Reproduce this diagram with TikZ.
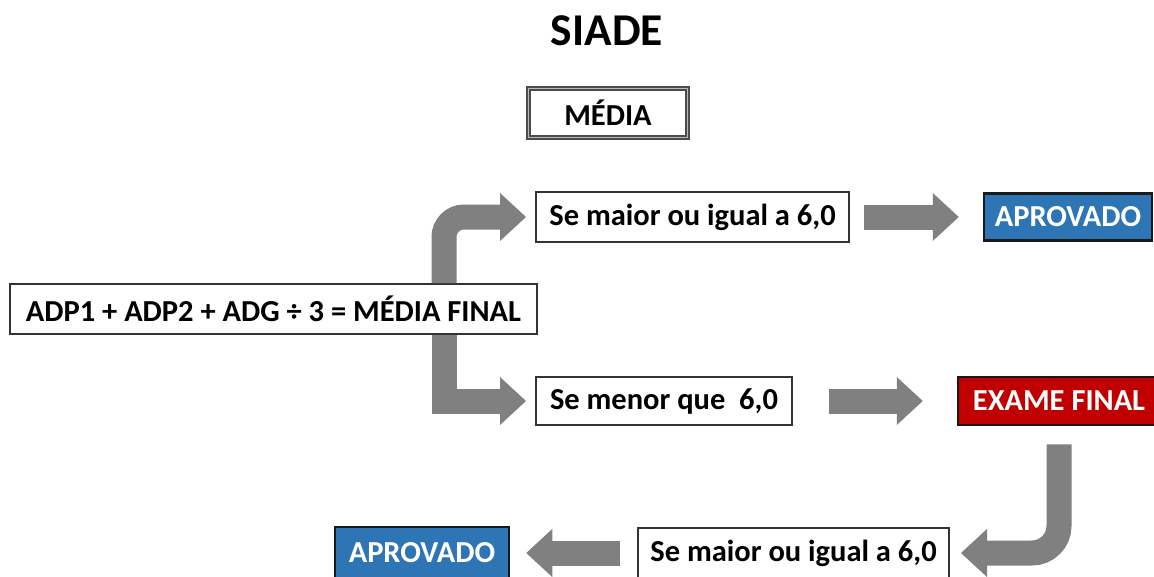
\documentclass[tikz,border=0pt]{standalone}
\usepackage{fontspec}
\setmainfont{Carlito}
\usetikzlibrary{positioning,arrows.meta}

\definecolor{aprovblue}{RGB}{46,117,182}
\definecolor{examered}{RGB}{192,0,0}
\definecolor{arrowgray}{RGB}{128,128,128}

\tikzset{
	boxtext/.style={font=\bfseries\fontsize{30.5}{34}\selectfont},
	stepbox/.style={draw=black!80, line width=2pt, fill=white, inner sep=0pt, boxtext},
	resultbox/.style={draw=black!90, line width=2.5pt, inner sep=0pt, text=white, boxtext},
	blockarrow/.style={draw=arrowgray, line width=25pt,
		-{Triangle[length=26pt, width=48pt, line width=0pt]}},
}

\begin{document}
\begin{tikzpicture}[x=1pt, y=-1pt]

\useasboundingbox (0, 0) rectangle (1154, 576);
\clip (0, 0) rectangle (1154, 576);

% Title
\node [font=\bfseries\fontsize{45.5}{50}\selectfont] (title) at (607, 31) {SIADE};

% Media
\node [draw=black!70,
	line width=2pt,
	double=gray!55,
	double distance=1.5pt,
	minimum width=159pt,
	minimum height=49pt,
	inner sep=0pt,
	boxtext
] (media) at (608, 113) {MÉDIA};

% Formula
\node [stepbox,
	minimum width=527pt,
	minimum height=50pt
] (formula) at (273.5, 309) {ADP1 + ADP2 + ADG ÷ 3 = MÉDIA FINAL};
\coordinate (split) at (444, 309);

% Greater or equal
\node [stepbox,
	minimum width=313pt,
	minimum height=50pt
] (gemax) at (692.5, 217) {Se maior ou igual a 6,0};

% Less than
\node [stepbox,
	minimum width=256pt,
	minimum height=48pt
] (lessmin) at (664, 401) {Se menor que\ \ 6,0};

% Approved 1
\node [resultbox,
	fill=aprovblue,
	minimum width=168pt,
	minimum height=47pt
] (approved_1) at (1068, 217) {APROVADO};

% Final exam
\node [resultbox,
	fill=examered,
	minimum width=202pt,
	minimum height=48pt
] (final_exam) at (1059, 401) {EXAME FINAL};

% Greater or equal after exam
\node [stepbox,
	minimum width=311pt,
	minimum height=50pt
] (gemax_exam) at (793.5, 553) {Se maior ou igual a 6,0};

% Approved 2
\node [resultbox,
	fill=aprovblue,
	minimum width=174pt,
	minimum height=52pt
] (approved_2) at (422, 553) {APROVADO};

% Arrows
\draw[blockarrow, rounded corners=20pt, shorten >=9pt] (split |- formula.north) |- (gemax.west);
\draw[blockarrow, shorten >=9pt] (split |- formula.south) |- (lessmin.west);
\draw[blockarrow, shorten <=14pt, shorten >=24pt] (gemax.east) -- (approved_1.west);
\draw[blockarrow, shorten <=36pt, shorten >=34pt] (lessmin.east) -- (final_exam.west);
\draw[blockarrow, rounded corners=27pt, shorten <=18pt, shorten >=11pt] (final_exam.south) |- (gemax_exam.east);
\draw[blockarrow, shorten <=17pt, shorten >=16pt] (gemax_exam.west) -- (approved_2.east);

\end{tikzpicture}
\end{document}
